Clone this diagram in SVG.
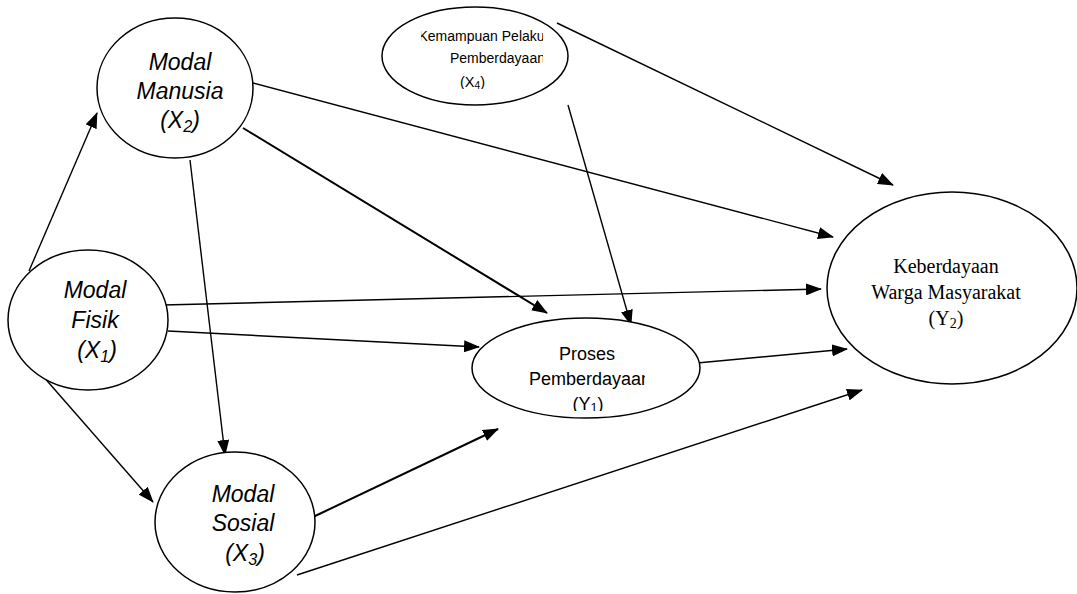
<svg xmlns="http://www.w3.org/2000/svg" width="1077" height="594" viewBox="0 0 1077 594">
<defs>
<style>
.node ellipse{fill:#fff;stroke:#000;stroke-width:1.5}
.it{font-family:"Liberation Sans",Arial,sans-serif;font-style:italic;font-size:23px;fill:#000;text-anchor:middle}
.sans{font-family:"Liberation Sans",Arial,sans-serif;fill:#000}
.serif{font-family:"Liberation Serif","Times New Roman",serif;font-size:20px;fill:#000;text-anchor:middle}
.sub{font-size:70%}
#edges line{stroke:#000;stroke-width:1.4;marker-end:url(#ah)}
#edges line.thick{stroke-width:2}
</style>
<marker id="ah" markerUnits="userSpaceOnUse" markerWidth="16" markerHeight="12" refX="15" refY="6" orient="auto">
<path d="M0,0 L16,6 L0,12 Z" fill="#000"/>
</marker>
<clipPath id="clipK"><rect x="421" y="20" width="122" height="69"/></clipPath>
<clipPath id="clipP"><rect x="500" y="336" width="145" height="75"/></clipPath>
</defs>
<rect width="1077" height="594" fill="#fff"/>
<g id="edges">
<line x1="29" y1="271" x2="97" y2="113"/>
<line x1="42" y1="375" x2="153" y2="502"/>
<line x1="190" y1="160" x2="225" y2="455"/>
<line class="thick" x1="243" y1="128" x2="547" y2="313"/>
<line x1="253" y1="83" x2="833" y2="237"/>
<line x1="557" y1="23" x2="893" y2="185"/>
<line x1="568" y1="105" x2="631" y2="325"/>
<line x1="163" y1="305" x2="821" y2="289"/>
<line x1="168" y1="331" x2="479" y2="347"/>
<line x1="697" y1="363" x2="847" y2="349"/>
<line class="thick" x1="313" y1="517" x2="498" y2="429"/>
<line x1="297" y1="575" x2="862" y2="390"/>
</g>
<g id="modal-manusia" class="node">
<ellipse cx="175" cy="88" rx="78" ry="70"/>
<text class="it" x="180" y="70">Modal</text>
<text class="it" x="180" y="99">Manusia</text>
<text class="it" x="180" y="128">(X<tspan class="sub" dy="4">2</tspan><tspan dy="-4">)</tspan></text>
</g>
<g id="kemampuan" class="node">
<ellipse cx="475" cy="56" rx="93" ry="49"/>
<g clip-path="url(#clipK)">
<text class="sans" font-size="14" x="418.5" y="41">Kemampuan Pelaku</text>
<text class="sans" font-size="14" x="450" y="63">Pemberdayaan</text>
<text class="sans" font-size="14.5" x="460" y="87">(X<tspan class="sub" dy="2">4</tspan><tspan dy="-2">)</tspan></text>
</g>
</g>
<g id="modal-fisik" class="node">
<ellipse cx="88" cy="320" rx="80" ry="70"/>
<text class="it" x="95" y="298">Modal</text>
<text class="it" x="95" y="328">Fisik</text>
<text class="it" x="97" y="358">(X<tspan class="sub" dy="4">1</tspan><tspan dy="-4">)</tspan></text>
</g>
<g id="proses" class="node">
<ellipse cx="586" cy="368" rx="114" ry="50"/>
<g clip-path="url(#clipP)">
<text class="sans" font-size="18" text-anchor="middle" x="587" y="360">Proses</text>
<text class="sans" font-size="18" text-anchor="middle" x="590" y="385">Pemberdayaan</text>
<text class="sans" font-size="18" text-anchor="middle" x="588" y="410">(Y<tspan class="sub" dy="2">1</tspan><tspan dy="-2">)</tspan></text>
</g>
</g>
<g id="keberdayaan" class="node">
<ellipse cx="952" cy="288" rx="125" ry="96"/>
<text class="serif" x="946" y="273">Keberdayaan</text>
<text class="serif" x="946" y="299">Warga Masyarakat</text>
<text class="serif" x="946" y="325">(Y<tspan class="sub" dy="3">2</tspan><tspan dy="-3">)</tspan></text>
</g>
<g id="modal-sosial" class="node">
<ellipse cx="235" cy="522" rx="80" ry="70"/>
<text class="it" x="243" y="502">Modal</text>
<text class="it" x="243" y="531">Sosial</text>
<text class="it" x="245" y="561">(X<tspan class="sub" dy="4">3</tspan><tspan dy="-4">)</tspan></text>
</g>
</svg>
